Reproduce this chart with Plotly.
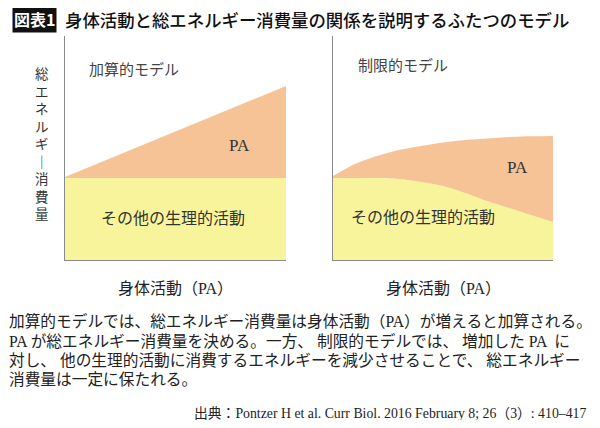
import plotly.graph_objects as go
from plotly.subplots import make_subplots

# y is energy (0 = x axis), x is physical activity 0..10
add_x = [0, 10]
add_other = [82, 82]          # その他の生理的活動 (flat)
add_total = [83, 174]         # 総エネルギー消費量, rising

con_x = [0, 1, 2, 3, 4, 5, 6, 7, 8, 9, 10]
con_other = [82, 82, 82, 81, 78, 74, 67, 59, 52, 45, 38]
con_total = [84, 96, 104, 110, 114, 117.5, 120, 121.5, 123, 123.7, 124]

YELLOW = "#F8F49C"
ORANGE = "#F6C397"
SANS = "Noto Sans CJK JP"
SERIF = "Liberation Serif, Noto Sans CJK JP"

# the page body has an 8px margin, so the figure is drawn 8px smaller and
# reference pixel positions are shifted by that offset
OFF = 8
W, H = 600 - 2 * OFF, 428 - 2 * OFF


def px(x):  # reference pixel -> paper
    return (x - OFF) / W


def py(y):
    return 1 - (y - OFF) / H


fig = make_subplots(rows=1, cols=2)

for col, xs, other, total in [(1, add_x, add_other, add_total), (2, con_x, con_other, con_total)]:
    fig.add_trace(go.Scatter(x=xs, y=other, mode="lines", line=dict(width=0, shape="spline", smoothing=0.8),
                             fill="tozeroy", fillcolor=YELLOW, hoverinfo="skip"), row=1, col=col)
    fig.add_trace(go.Scatter(x=xs, y=total, mode="lines", line=dict(width=0, shape="spline", smoothing=0.8),
                             fill="tonexty", fillcolor=ORANGE, hoverinfo="skip"), row=1, col=col)

ax = dict(showgrid=False, zeroline=False, showticklabels=False, ticks="",
          showline=True, linecolor="#8a8a8a", linewidth=1.2, fixedrange=True)
fig.update_xaxes(range=[0, 10], **ax)
fig.update_yaxes(range=[0, 224], **ax)
fig.update_layout(
    xaxis=dict(domain=[px(65), px(286)]),
    xaxis2=dict(domain=[px(333), px(553)]),
    yaxis=dict(domain=[py(260), py(36)]),
    yaxis2=dict(domain=[py(260), py(36)]),
)

ann = []
# title
ann.append(dict(x=px(34), y=py(19), text="<b>図表1</b>", font=dict(family=SANS, size=16, color="white"),
                bgcolor="#111111", borderpad=1))
ann.append(dict(x=px(63), y=py(20), xanchor="left", text="身体活動と総エネルギー消費量の関係を説明するふたつのモデル",
                font=dict(family=SANS, size=17.4, color="#111111", weight=500)))
# y axis label, stacked vertically
ann.append(dict(x=px(42), y=py(144), text="<br>".join("総エネルギ｜消費量"),
                font=dict(family=SERIF, size=13.5, color="#333333")))
# panel labels
ann.append(dict(x=px(87), y=py(70), xanchor="left", text="加算的モデル",
                font=dict(family=SERIF, size=15, color="#444444")))
ann.append(dict(x=px(356), y=py(65), xanchor="left", text="制限的モデル",
                font=dict(family=SERIF, size=15, color="#444444")))
# area labels
for xr, yr, x, y, t in [("x", "y", 7.9, 115, "PA"), ("x2", "y2", 8.4, 93, "PA"),
                        ("x", "y", 4.9, 42, "その他の生理的活動"), ("x2", "y2", 4.1, 43, "その他の生理的活動")]:
    ann.append(dict(xref=xr, yref=yr, x=x, y=y, text=t,
                    font=dict(family=SERIF, size=17 if t == "PA" else 16, color="#333333")))
# x axis labels
for cx in [175.5, 443]:
    ann.append(dict(x=px(cx), y=py(288), text="身体活動（PA）",
                    font=dict(family=SERIF, size=16, color="#222222")))
# caption
lines = [
    "加算的モデルでは、総エネルギー消費量は身体活動（PA）が増えると加算される。",
    "PA が総エネルギー消費量を決める。一方、 制限的モデルでは、 増加した PA  に",
    "対し、 他の生理的活動に消費するエネルギーを減少させることで、 総エネルギー",
    "消費量は一定に保たれる。",
]
for i, t in enumerate(lines):
    ann.append(dict(x=px(7), y=py(321 + 19.5 * i), xanchor="left", text=t,
                    font=dict(family=SERIF, size=15.7, color="#222222")))
ann.append(dict(x=px(589), y=py(413), xanchor="right",
                text="出典：Pontzer H et al. Curr Biol. 2016 February 8; 26（3）: 410–417",
                font=dict(family=SERIF, size=13.8, color="#222222")))

for a in ann:
    a.setdefault("xref", "paper")
    a.setdefault("yref", "paper")
    a.setdefault("xanchor", "center")
    a.setdefault("yanchor", "middle")
    a["showarrow"] = False
    fig.add_annotation(**a)

fig.update_layout(width=W, height=H, margin=dict(l=0, r=0, t=0, b=0),
                  paper_bgcolor="white", plot_bgcolor="white", showlegend=False)

fig.write_html("out.html")
